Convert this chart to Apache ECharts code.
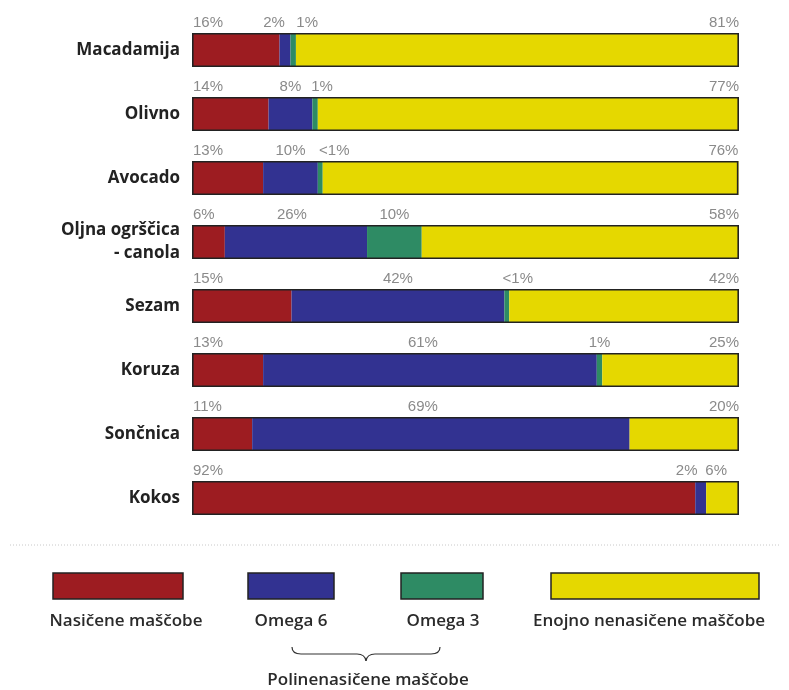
<!DOCTYPE html>
<html>
<head>
<meta charset="utf-8">
<script src="https://cdn.jsdelivr.net/npm/echarts@6/dist/echarts.min.js"></script>
<style>
html,body{margin:0;padding:0;background:#fff;}
#chart{width:789px;height:690px;}
</style>
</head>
<body>
<div id="chart"></div>
<script>
// ---- data (segment lengths as drawn) ----
var categories = ['Macadamija', 'Olivno', 'Avocado', 'Oljna ogrščica\n- canola', 'Sezam', 'Koruza', 'Sončnica', 'Kokos'];
var saturated  = [16, 14, 13, 6, 18.2, 13, 11, 92];
var omega6     = [2, 8, 10, 26, 38.9, 61, 69, 2];
var omega3     = [1, 1, 0.9, 10, 0.9, 1, 0, 0];
var mono       = [81, 77, 76, 58, 42, 25, 20, 6];
// ---- printed labels ----
var saturatedText = ['16%', '14%', '13%', '6%', '15%', '13%', '11%', '92%'];
var omega6Text    = ['2%', '8%', '10%', '26%', '42%', '61%', '69%', '2%'];
var omega3Text    = ['1%', '1%', '<1%', '10%', '<1%', '1%', '', ''];
var monoText      = ['81%', '77%', '76%', '58%', '42%', '25%', '20%', '6%'];
var seriesNames = ['Nasičene maščobe', 'Omega 6', 'Omega 3', 'Enojno nenasičene maščobe'];
var groupName = 'Polinenasičene maščobe';

// ---- style ----
var colors = ['#9d1c21', '#323291', '#2e8b64', '#e5d800'];
var labelFont = {color: '#8a8a8a', fontSize: 15, fontFamily: 'Liberation Sans, Arial, sans-serif'};
// horizontal nudges of some value labels (px), keyed "row-series"
var labelNudge = {'0-1': -11, '0-2': 14, '1-2': 7, '2-2': 14, '3-1': -4, '4-2': 11, '5-1': -7, '6-1': -18, '7-1': -14, '7-3': -12};

function makeSeries(values, texts, si) {
  return {
    name: seriesNames[si],
    type: 'bar',
    stack: 'total',
    barWidth: 34,
    barGap: '-100%',
    itemStyle: {color: colors[si]},
    emphasis: {disabled: true},
    data: values.map(function (v, ri) {
      var nudge = labelNudge[ri + '-' + si] || 0;
      var label;
      if (v === 0 || !texts[ri]) {
        label = {show: false};
      } else if (si === 0) {
        label = Object.assign({show: true, position: [1 + nudge, -3], align: 'left', verticalAlign: 'bottom'}, labelFont);
      } else if (si === 3) {
        label = Object.assign({show: true, position: ['100%', -3], offset: [nudge, 0], align: 'right', verticalAlign: 'bottom'}, labelFont);
      } else {
        label = Object.assign({show: true, position: 'top', distance: 3, offset: [nudge, 0]}, labelFont);
      }
      label.formatter = texts[ri];
      return {value: v, label: label};
    })
  };
}

var totals = categories.map(function (c, i) { return saturated[i] + omega6[i] + omega3[i] + mono[i]; });

var series = [
  makeSeries(saturated, saturatedText, 0),
  makeSeries(omega6, omega6Text, 1),
  makeSeries(omega3, omega3Text, 2),
  makeSeries(mono, monoText, 3)
];
series.push({
  type: 'bar',
  barWidth: 34,
  barGap: '-100%',
  silent: true,
  z: 5,
  itemStyle: {color: 'rgba(0,0,0,0)', borderColor: '#222', borderWidth: 1.6},
  data: totals
});

// legend graphic
var legendBoxes = [
  {x: 53, w: 130, cx: 126},
  {x: 248, w: 86, cx: 291},
  {x: 401, w: 82, cx: 443},
  {x: 551, w: 208, cx: 649}
];
var legendFont = '600 17px "Open Sans", sans-serif';
var braceStyle = {fill: 'none', stroke: '#333', lineWidth: 1.2};
var graphics = [];
graphics.push({
  type: 'line', shape: {x1: 10, y1: 545, x2: 779, y2: 545},
  style: {stroke: '#c8c8c8', lineWidth: 1, lineDash: [1, 2]}
});
legendBoxes.forEach(function (b, i) {
  graphics.push({
    type: 'rect', shape: {x: b.x, y: 573, width: b.w, height: 26},
    style: {fill: colors[i], stroke: '#222', lineWidth: 1.5}
  });
  graphics.push({
    type: 'text', x: b.cx, y: 621,
    style: {text: seriesNames[i], font: legendFont, fill: '#2a2a2a', align: 'center', verticalAlign: 'middle'}
  });
});
// curly brace under Omega 6 / Omega 3
graphics.push({type: 'bezierCurve', shape: {x1: 292, y1: 647, cpx1: 292, cpy1: 654, x2: 301, y2: 654}, style: braceStyle});
graphics.push({type: 'line', shape: {x1: 301, y1: 654, x2: 357, y2: 654}, style: braceStyle});
graphics.push({type: 'bezierCurve', shape: {x1: 357, y1: 654, cpx1: 365, cpy1: 654, x2: 366, y2: 661}, style: braceStyle});
graphics.push({type: 'bezierCurve', shape: {x1: 366, y1: 661, cpx1: 367, cpy1: 654, x2: 375, y2: 654}, style: braceStyle});
graphics.push({type: 'line', shape: {x1: 375, y1: 654, x2: 431, y2: 654}, style: braceStyle});
graphics.push({type: 'bezierCurve', shape: {x1: 431, y1: 654, cpx1: 440, cpy1: 654, x2: 440, y2: 647}, style: braceStyle});
graphics.push({
  type: 'text', x: 368, y: 680,
  style: {text: groupName, font: legendFont, fill: '#2a2a2a', align: 'center', verticalAlign: 'middle'}
});

var chart = echarts.init(document.getElementById('chart'), null, {renderer: 'canvas'});
chart.setOption({
  animation: false,
  backgroundColor: '#fff',
  grid: {left: 192, right: 50, top: 18, height: 512},
  xAxis: {type: 'value', min: 0, max: 100, show: false},
  yAxis: {
    type: 'category',
    data: categories,
    inverse: true,
    axisLine: {show: false},
    axisTick: {show: false},
    axisLabel: {
      margin: 12,
      color: '#222',
      fontSize: 17,
      fontWeight: 'bold',
      fontFamily: '"Open Sans", sans-serif',
      lineHeight: 23,
      align: 'right'
    }
  },
  series: series,
  graphic: graphics
});
</script>
</body>
</html>
